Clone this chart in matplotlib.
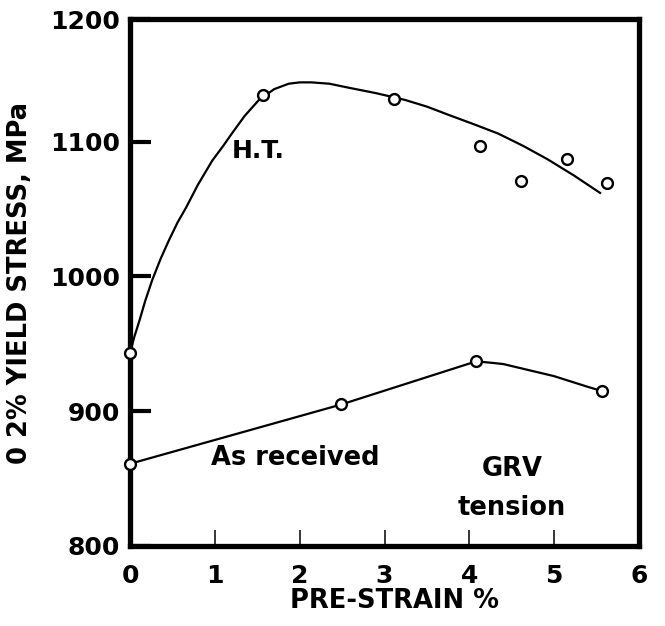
import matplotlib
matplotlib.use("Agg")
import matplotlib.pyplot as plt

# Measured points (open circles)
ht_strain = [0.0, 1.57, 3.11, 4.13, 4.61, 5.15, 5.62]
ht_stress = [943, 1135, 1132, 1097, 1071, 1087, 1069]

ar_strain = [0.0, 2.49, 4.08, 5.56]
ar_stress = [861, 905, 937, 915]

# Hand-drawn trend lines
ht_curve_x = [0.0, 0.05, 0.11, 0.18, 0.26, 0.36, 0.46, 0.56, 0.66, 0.8, 0.97, 1.1, 1.2,
              1.35, 1.52, 1.7, 1.87, 2.0, 2.14, 2.35, 2.58, 2.9, 3.24, 3.5, 3.75, 4.05,
              4.34, 4.63, 4.92, 5.23, 5.54]
ht_curve_y = [943, 955, 967, 982, 997, 1013, 1027, 1040, 1051, 1068, 1086, 1097, 1106,
              1119, 1131, 1139, 1143, 1144, 1144, 1143, 1140, 1136, 1131, 1126, 1120, 1113,
              1106, 1097, 1087, 1075, 1062]

ar_curve_x = [0.0, 2.49, 4.08, 4.25, 4.4, 4.6, 4.8, 5.0, 5.2, 5.4, 5.56]
ar_curve_y = [861, 905, 937, 936, 935, 932, 929, 926, 922, 918, 915]

x_ticks = [0, 1, 2, 3, 4, 5, 6]
y_ticks = [800, 900, 1000, 1100, 1191]
y_tick_labels = ["800", "900", "1000", "1100", "1200"]

plt.rcParams['font.family'] = ['DejaVu Sans']
plt.rcParams['font.weight'] = 'bold'

fig = plt.figure(figsize=(6.65, 6.26), dpi=100)
ax = fig.add_axes([0.1955, 0.1278, 0.7655, 0.8418])

# Trend lines
ax.plot(ht_curve_x, ht_curve_y, color='black', lw=1.6, zorder=2)
ax.plot(ar_curve_x, ar_curve_y, color='black', lw=1.6, zorder=2)

# Data points
ax.plot(ht_strain, ht_stress, 'o', ms=7.8, mfc='white', mec='black', mew=1.7,
        zorder=3, clip_on=False)
ax.plot(ar_strain, ar_stress, 'o', ms=7.8, mfc='white', mec='black', mew=1.7,
        zorder=3, clip_on=False)

# Annotations
ax.text(1.51, 1093, "H.T.", fontsize=18, fontweight='bold', ha='center', va='center')
ax.text(1.95, 865, "As received", fontsize=18.5, fontweight='bold', ha='center', va='center')
ax.text(4.5, 857, "GRV", fontsize=18.5, fontweight='bold', ha='center', va='center')
ax.text(4.5, 828, "tension", fontsize=18.5, fontweight='bold', ha='center', va='center')

ax.set_xlim(0, 6)
ax.set_ylim(800, 1191)

ax.set_xticks(x_ticks)
ax.set_xticklabels([str(t) for t in x_ticks])
ax.set_yticks(y_ticks)
ax.set_yticklabels(y_tick_labels)

ax.tick_params(axis='x', direction='in', length=11.5, width=1.1, pad=13, labelsize=18)
ax.tick_params(axis='y', direction='in', length=15, width=3, pad=7, labelsize=18)

for s in ax.spines.values():
    s.set_linewidth(3.8)

ax.set_xlabel("PRE-STRAIN %", fontsize=18.5, fontweight='bold')
ax.set_ylabel("0 2% YIELD STRESS, MPa", fontsize=18.5, fontweight='bold')
ax.xaxis.set_label_coords(0.52, -0.08)
ax.yaxis.set_label_coords(-0.19, 0.5)

fig.savefig("out.png", dpi=100)
plt.close(fig)
